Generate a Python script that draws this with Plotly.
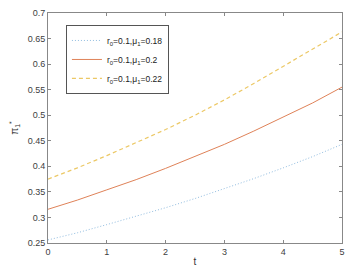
import plotly.graph_objects as go

t = [0, 0.5, 1, 1.5, 2, 2.5, 3, 3.5, 4, 4.5, 5]
pi_018 = [0.256, 0.270, 0.286, 0.302, 0.319, 0.337, 0.356, 0.376, 0.397, 0.419, 0.443]
pi_020 = [0.316, 0.334, 0.354, 0.374, 0.396, 0.419, 0.443, 0.469, 0.496, 0.524, 0.555]
pi_022 = [0.375, 0.397, 0.421, 0.446, 0.472, 0.500, 0.530, 0.562, 0.596, 0.629, 0.663]
names = ["r<sub>0</sub>=0.1,μ<sub>1</sub>=0.18",
         "r<sub>0</sub>=0.1,μ<sub>1</sub>=0.2",
         "r<sub>0</sub>=0.1,μ<sub>1</sub>=0.22"]
x_ticks = [0, 1, 2, 3, 4, 5]
y_ticks = [0.25, 0.3, 0.35, 0.4, 0.45, 0.5, 0.55, 0.6, 0.65, 0.7]
y_labels = ["0.25", "0.3", "0.35", "0.4", "0.45", "0.5", "0.55", "0.6", "0.65", "0.7"]

fig = go.Figure()
fig.add_trace(go.Scatter(x=t, y=pi_018, mode="lines", name=names[0],
                         line=dict(color="#92bde0", width=1, dash="1px,2px")))
fig.add_trace(go.Scatter(x=t, y=pi_020, mode="lines", name=names[1],
                         line=dict(color="#df8258", width=1)))
fig.add_trace(go.Scatter(x=t, y=pi_022, mode="lines", name=names[2],
                         line=dict(color="#ecc865", width=1.2, dash="4px,3px")))

axis_common = dict(showgrid=False, zeroline=False, showline=True, linecolor="#888888",
                   linewidth=1, mirror="ticks", ticks="inside", ticklen=3,
                   tickcolor="#888888", automargin=False,
                   tickfont=dict(size=9, color="#404040"))
fig.update_xaxes(range=[0, 5], tickvals=x_ticks,
                 title=dict(text="t", font=dict(size=10, color="#333333"), standoff=2),
                 **axis_common)
fig.update_yaxes(range=[0.25, 0.7], tickvals=y_ticks, ticktext=y_labels,
                 title=dict(text="π<sub>1</sub><sup>*</sup>", font=dict(size=10, color="#333333"), standoff=8),
                 **axis_common)
fig.update_layout(
    width=347, height=266,
    margin=dict(l=40, r=13, t=5, b=31, autoexpand=False),
    paper_bgcolor="white", plot_bgcolor="white",
    font=dict(family="Liberation Sans, Arial, sans-serif", size=9, color="#333333"),
    legend=dict(x=0.061, y=0.948, xanchor="left", yanchor="top",
                bgcolor="white", bordercolor="#555555", borderwidth=1,
                font=dict(size=8.5, color="#222222"), tracegroupgap=0,
                itemwidth=30),
    showlegend=True,
)
fig.write_html("out.html")
